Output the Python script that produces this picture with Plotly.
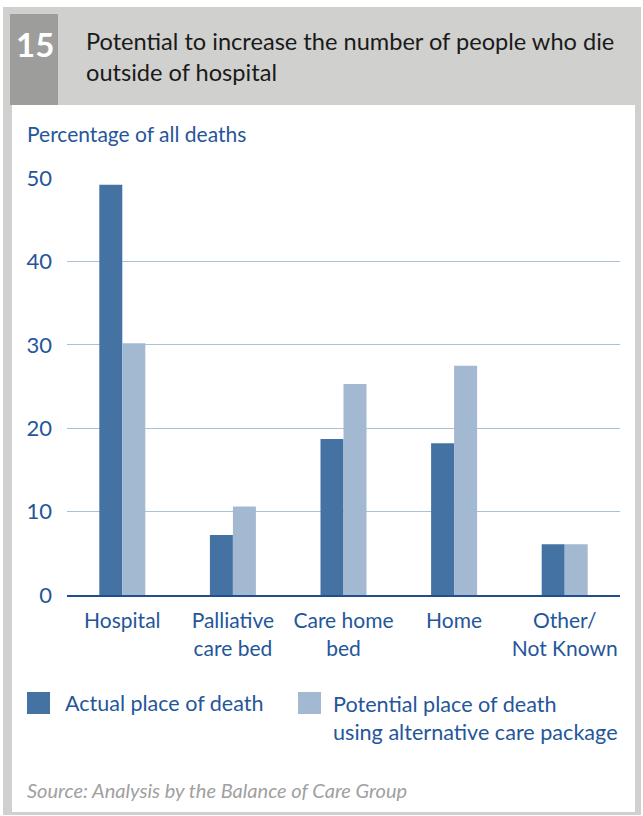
import plotly.graph_objects as go

categories = ["Hospital", "Palliative<br>care bed", "Care home<br>bed", "Home", "Other/<br>Not Known"]
actual = [49.2, 7.2, 18.7, 18.2, 6.1]
potential = [30.2, 10.6, 25.3, 27.5, 6.1]
series_names = ["Actual place of death", "Potential place of death<br>using alternative care package"]
y_ticks = [0, 10, 20, 30, 40, 50]

W, H = 643, 816
L, R, T, B = 67, 23, 178, 221
PW, PH = W - L - R, H - T - B
FONT = "Lato"
BLUE_TXT = "#25569a"
DARK = "#4472a3"
LIGHT = "#a3b9d2"

fig = go.Figure()
fig.add_trace(go.Bar(x=categories, y=actual, name=series_names[0], marker_color=DARK,
                     marker_line_width=0, showlegend=False))
fig.add_trace(go.Bar(x=categories, y=potential, name=series_names[1], marker_color=LIGHT,
                     marker_line_width=0, showlegend=False))

def px(x):
    return (x - L) / PW

def py(y):
    return (H - B - y) / PH

shapes = [
    dict(type="rect", xref="paper", yref="paper", x0=px(3), x1=px(641), y0=py(815), y1=py(7),
         fillcolor="#d0d0ce", line_width=0, layer="below"),
    dict(type="rect", xref="paper", yref="paper", x0=px(12), x1=px(635), y0=py(812), y1=py(105),
         fillcolor="white", line_width=0, layer="below"),
    dict(type="rect", xref="paper", yref="paper", x0=px(10), x1=px(58), y0=py(105), y1=py(14),
         fillcolor="#9d9d9b", line_width=0, layer="below"),
    dict(type="rect", xref="paper", yref="paper", x0=px(27), x1=px(50), y0=py(714), y1=py(692),
         fillcolor=DARK, line_width=0),
    dict(type="rect", xref="paper", yref="paper", x0=px(298), x1=px(321), y0=py(714), y1=py(692),
         fillcolor=LIGHT, line_width=0),
]

annotations = [
    dict(text="<b>15</b>", x=px(35), y=py(44), xref="paper", yref="paper", showarrow=False,
         font=dict(family=FONT, size=33, color="white"), xanchor="center", yanchor="middle"),
    dict(text="Potential to increase the number of people who die<br>outside of hospital",
         x=px(84), y=py(25), xref="paper", yref="paper", showarrow=False, align="left",
         font=dict(family=FONT, size=23.6, color="#1a1a1a"), xanchor="left", yanchor="top"),
    dict(text="Percentage of all deaths", x=px(25), y=py(133), xref="paper", yref="paper",
         showarrow=False, font=dict(family=FONT, size=21, color=BLUE_TXT),
         xanchor="left", yanchor="middle"),
    dict(text=series_names[0], x=px(63), y=py(703), xref="paper", yref="paper",
         showarrow=False, font=dict(family=FONT, size=21.5, color=BLUE_TXT),
         xanchor="left", yanchor="middle", align="left"),
    dict(text=series_names[1], x=px(331), y=py(689), xref="paper", yref="paper",
         showarrow=False, font=dict(family=FONT, size=21.6, color=BLUE_TXT),
         xanchor="left", yanchor="top", align="left"),
    dict(text="<i>Source: Analysis by the Balance of Care Group</i>", x=px(25), y=py(790),
         xref="paper", yref="paper", showarrow=False,
         font=dict(family=FONT, size=20, color="#a0a0a0"), xanchor="left", yanchor="middle"),
]

fig.update_layout(
    width=W, height=H,
    margin=dict(l=L, r=R, t=T, b=B, pad=0),
    paper_bgcolor="white", plot_bgcolor="rgba(0,0,0,0)",
    barmode="group", bargap=0.584, bargroupgap=0,
    shapes=shapes, annotations=annotations,
    font=dict(family=FONT, color=BLUE_TXT),
    showlegend=False,
)
fig.update_yaxes(range=[0, 50], tickvals=y_ticks, showgrid=True, gridcolor="#a9c0d9",
                 gridwidth=1, zeroline=False, showline=False, ticks="", automargin=False,
                 tickfont=dict(family=FONT, size=22, color=BLUE_TXT), ticklabelstandoff=14)
fig.update_xaxes(showgrid=False, showline=True, linecolor="#1f4f8f", linewidth=2,
                 ticks="", automargin=False, tickfont=dict(family=FONT, size=21, color=BLUE_TXT),
                 ticklabelstandoff=6)

fig.write_html("out.html", config={"displayModeBar": False},
               post_script="document.body.style.margin='0';document.body.style.overflow='hidden';")
